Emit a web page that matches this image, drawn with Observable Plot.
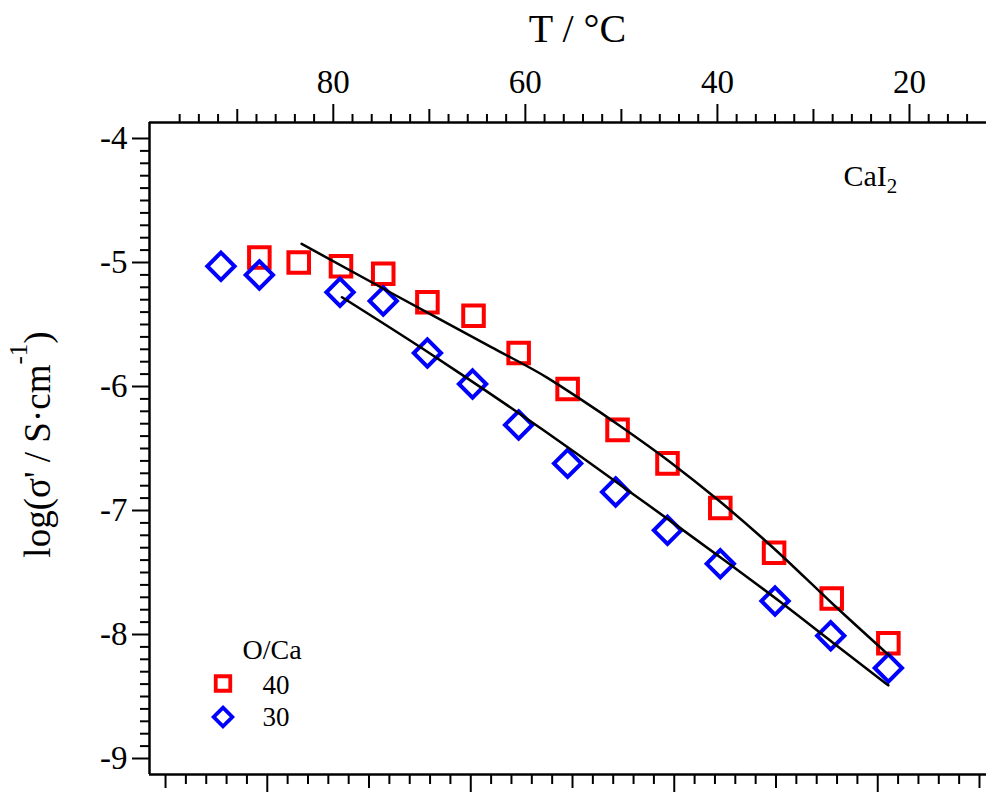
<!DOCTYPE html>
<html><head><meta charset="utf-8">
<script src="https://cdn.jsdelivr.net/npm/d3@7"></script>
<script src="https://cdn.jsdelivr.net/npm/@observablehq/plot@0.6"></script>
<style>html,body{margin:0;padding:0;background:#fff;overflow:hidden}</style>
</head><body><div id="chart"></div>
<script>
// ---- data ----
const tempRed = [87.7, 83.6, 79.2, 74.8, 70.2, 65.4, 60.7, 55.6, 50.4, 45.2, 39.7, 34.1, 28.1, 22.2];
const logSigmaRed = [-4.96, -5.00, -5.03, -5.09, -5.32, -5.43, -5.73, -6.02, -6.35, -6.62, -6.98, -7.34, -7.71, -8.07];
const tempBlue = [91.7, 87.7, 79.3, 74.8, 70.2, 65.5, 60.7, 55.6, 50.6, 45.2, 39.7, 34.0, 28.2, 22.2];
const logSigmaBlue = [-5.03, -5.10, -5.24, -5.31, -5.73, -5.98, -6.31, -6.62, -6.85, -7.16, -7.43, -7.73, -8.01, -8.27];
const fitTempUpper = [83.3, 74.1, 63.6, 57.7, 54.3, 50.1, 44.9, 39.7, 34.2, 27.9, 22.1];
const fitLogUpper = [-4.85, -5.24, -5.68, -5.93, -6.10, -6.32, -6.61, -6.93, -7.30, -7.76, -8.17];
const fitTempLower = [79.1, 70.6, 66.5, 54.3, 49.1, 43.9, 38.6, 33.4, 27.9, 22.2];
const fitLogLower = [-5.28, -5.70, -5.91, -6.56, -6.85, -7.14, -7.44, -7.74, -8.07, -8.41];

const legendTitle = "O/Ca";
const legendLabels = ["40", "30"];
const saltLabel = "CaI";
const saltSub = "2";
const xTitle = "T / °C";
const yTitleMain = "log(σ' / S·cm";
const yTitleSup = "-1";
const yTitleEnd = ")";

// ---- axes ----
const xDomain = [99.14, 11.98];
const yDomain = [-9.129, -3.871];
const topMajor = [80, 60, 40, 20];
const topMedium = [90, 70, 50, 30];
const topMinor = d3.range(14, 97, 2).filter(d => d % 10 !== 0);
const yMajor = [-4, -5, -6, -7, -8, -9];
const yMinor = d3.range(-89, -40).filter(d => d % 10 !== 0).map(d => d / 10);
// unlabeled bottom axis (its own unit), expressed in the x scale
const bottomOriginT = 86.875, bottomStepT = -2.119;
const bottomIdx = d3.range(-5, 36);
const bottomMajor = bottomIdx.filter(k => k % 10 === 0).map(k => bottomOriginT + k * bottomStepT);
const bottomMedium = bottomIdx.filter(k => k % 10 !== 0 && k % 5 === 0).map(k => bottomOriginT + k * bottomStepT);
const bottomMinor = bottomIdx.filter(k => k % 5 !== 0).map(k => bottomOriginT + k * bottomStepT);

const red = tempRed.map((t, i) => ({t, v: logSigmaRed[i]}));
const blue = tempBlue.map((t, i) => ({t, v: logSigmaBlue[i]}));
const fitUpper = fitTempUpper.map((t, i) => ({t, v: fitLogUpper[i]}));
const fitLower = fitTempLower.map((t, i) => ({t, v: fitLogLower[i]}));

const RED = "#ff0000", BLUE = "#0000ff";
const serif = "'Liberation Serif', 'Times New Roman', serif";
const blank = () => "";

const svg = Plot.plot({
  width: 986, height: 792,
  marginLeft: 149, marginRight: 0, marginTop: 122, marginBottom: 18,
  x: {domain: xDomain},
  y: {domain: yDomain},
  style: {fontFamily: serif, fontSize: "33px", background: "#fff", color: "#000", overflow: "visible"},
  marks: [
    // top axis
    Plot.axisX(topMinor, {anchor: "top", tickSize: 9, tickFormat: blank, label: null, strokeWidth: 2}),
    Plot.axisX(topMedium, {anchor: "top", tickSize: 14, tickFormat: blank, label: null, strokeWidth: 2}),
    Plot.axisX(topMajor, {anchor: "top", tickSize: 19, tickPadding: 11, tickFormat: d => String(d), fontSize: 33, label: null, strokeWidth: 2}),
    // bottom axis (unlabeled)
    Plot.axisX(bottomMinor, {anchor: "bottom", tickSize: 10, tickFormat: blank, label: null, strokeWidth: 2}),
    Plot.axisX(bottomMedium, {anchor: "bottom", tickSize: 14, tickFormat: blank, label: null, strokeWidth: 2}),
    Plot.axisX(bottomMajor, {anchor: "bottom", tickSize: 20, tickFormat: blank, label: null, strokeWidth: 2}),
    // left axis
    Plot.axisY(yMinor, {anchor: "left", tickSize: 9, tickFormat: blank, label: null, strokeWidth: 2}),
    Plot.axisY(yMajor, {anchor: "left", tickSize: 17, tickPadding: 5, tickFormat: d => String(d), fontSize: 33, label: null, strokeWidth: 2}),
    // frame lines (left, top, bottom)
    Plot.ruleX([xDomain[0]], {strokeWidth: 2.5}),
    Plot.ruleY(yDomain, {strokeWidth: 2.5}),
    // data
    Plot.dot(red, {x: "t", y: "v", symbol: "square", r: 11.6, stroke: RED, strokeWidth: 4, fill: "none"}),
    Plot.dot(blue, {x: "t", y: "v", symbol: "diamond2", r: 12.3, stroke: BLUE, strokeWidth: 4, fill: "none"}),
    Plot.line(fitUpper, {x: "t", y: "v", stroke: "#000", strokeWidth: 2.5, curve: "monotone-x"}),
    Plot.line(fitLower, {x: "t", y: "v", stroke: "#000", strokeWidth: 2.5, curve: "monotone-x"}),
    // titles
    Plot.text([xTitle], {frameAnchor: "top", dx: 9.5, dy: -81, lineAnchor: "bottom", fontSize: 40}),
    Plot.text([yTitleMain], {frameAnchor: "left", textAnchor: "middle", rotate: -90, dx: -100, dy: -4, lineAnchor: "bottom", fontSize: 37}),
    Plot.text([saltLabel], {frameAnchor: "top-right", textAnchor: "start", dx: -143, dy: 63, lineAnchor: "bottom", fontSize: 30}),
    // legend
    Plot.text([legendTitle], {frameAnchor: "bottom-left", textAnchor: "start", dx: 93, dy: -116, lineAnchor: "bottom", fontSize: 28}),
    Plot.dot([legendLabels[0]], {frameAnchor: "bottom-left", dx: 73.5, dy: -91, symbol: "square", r: 8.2, stroke: RED, strokeWidth: 3.8, fill: "none"}),
    Plot.dot([legendLabels[1]], {frameAnchor: "bottom-left", dx: 73.5, dy: -57.5, symbol: "diamond2", r: 8.4, stroke: BLUE, strokeWidth: 3.8, fill: "none"}),
    Plot.text([legendLabels[0]], {frameAnchor: "bottom-left", textAnchor: "start", dx: 113, dy: -81, lineAnchor: "bottom", fontSize: 27}),
    Plot.text([legendLabels[1]], {frameAnchor: "bottom-left", textAnchor: "start", dx: 113, dy: -49, lineAnchor: "bottom", fontSize: 27})
  ]
});

// sub/superscripts as real tspans
d3.select(svg).selectAll("text").each(function () {
  const t = this.textContent;
  if (t === saltLabel) {
    d3.select(this).append("tspan").attr("dy", 7).attr("font-size", 21).text(saltSub);
  } else if (t === yTitleMain) {
    d3.select(this).append("tspan").attr("dy", -23).attr("font-size", 25).text(yTitleSup);
    d3.select(this).append("tspan").attr("dy", 23).text(yTitleEnd);
  }
});

document.getElementById("chart").append(svg);
</script>
</body></html>
